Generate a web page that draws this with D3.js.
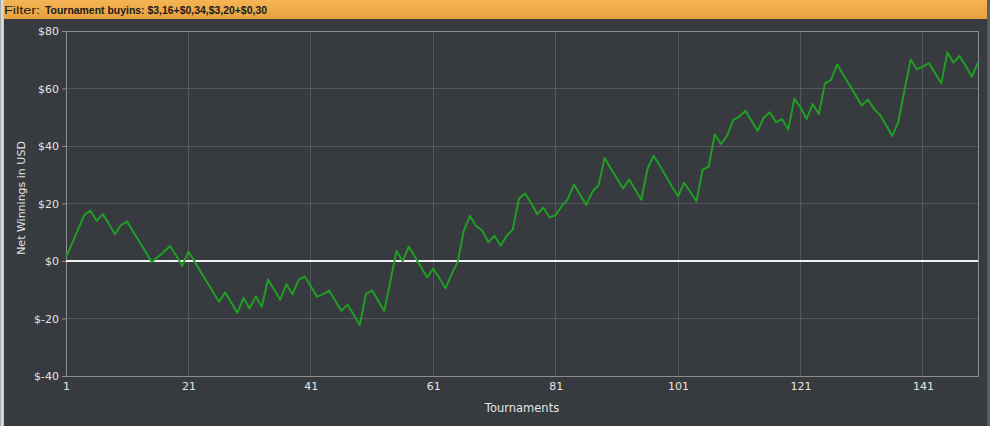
<!DOCTYPE html>
<html>
<head>
<meta charset="utf-8">
<script src="https://cdn.jsdelivr.net/npm/d3@7"></script>
<style>
html,body{margin:0;padding:0;background:#373a3e;overflow:hidden;}
svg{display:block;}
</style>
</head>
<body>
<svg id="chart" width="990" height="426"></svg>
<script>
// ---- data ----
const filterLabel = "Filter:";
const filterValue = "Tournament buyins: $3,16+$0,34,$3,20+$0,30";
const xTickValues = [1, 21, 41, 61, 81, 101, 121, 141];
const yTickValues = [-40, -20, 0, 20, 40, 60, 80];
const tournaments = d3.range(1, 151);
const netWinnings = [
  1.3, 6.1, 11.1, 16.0, 17.5, 14.0, 16.3, 13.0, 9.3, 12.5,
  13.7, 10.2, 6.7, 3.2, -0.3, 1.4, 3.2, 5.2, 1.9, -1.7,
  3.3, -0.2, -3.7, -7.2, -10.7, -14.2, -10.9, -14.4, -18.0, -12.8,
  -16.5, -12.3, -15.9, -6.4, -9.9, -13.5, -8.1, -11.6, -6.6, -5.4,
  -8.8, -12.4, -11.5, -10.3, -13.8, -17.3, -15.2, -18.7, -22.3, -11.5,
  -10.2, -13.8, -17.4, -7.0, 3.5, 0.0, 5.0, 1.5, -2.1, -5.7,
  -2.6, -6.0, -9.5, -4.6, -0.2, 10.6, 15.7, 12.2, 10.6, 6.5,
  8.8, 5.3, 8.8, 11.0, 21.7, 23.5, 20.1, 16.3, 18.6, 15.1,
  16.0, 19.1, 21.6, 26.6, 23.0, 19.5, 24.1, 26.4, 35.8, 32.2,
  28.8, 25.2, 28.3, 24.9, 21.3, 32.0, 36.6, 33.2, 29.6, 25.9,
  22.5, 27.2, 24.0, 20.8, 31.7, 32.8, 44.1, 40.6, 43.6, 49.0,
  50.2, 52.3, 48.8, 45.3, 49.9, 51.7, 48.3, 49.3, 45.8, 56.5,
  53.4, 49.4, 54.6, 51.1, 61.8, 63.0, 68.4, 64.8, 61.2, 57.7,
  54.1, 56.2, 52.9, 50.8, 47.2, 43.5, 48.5, 59.5, 70.1, 66.7,
  67.6, 68.8, 65.3, 61.8, 72.5, 69.0, 71.3, 67.8, 64.1, 69.0
];

// ---- drawing ----
const W = 990, H = 426;
const svg = d3.select("#chart");
const font = "'DejaVu Sans', Verdana, sans-serif";
const hfont = "'Liberation Sans', Arial, sans-serif";

const defs = svg.append("defs");
const hg = defs.append("linearGradient").attr("id","hdr").attr("x1",0).attr("y1",0).attr("x2",0).attr("y2",1);
hg.append("stop").attr("offset","0%").attr("stop-color","#f6b455");
hg.append("stop").attr("offset","100%").attr("stop-color","#e6a13e");
const lg = defs.append("linearGradient").attr("id","lstrip").attr("x1",0).attr("y1",0).attr("x2",1).attr("y2",0);
lg.append("stop").attr("offset","0%").attr("stop-color","#9a9a9a");
lg.append("stop").attr("offset","50%").attr("stop-color","#e8e8e8");
lg.append("stop").attr("offset","100%").attr("stop-color","#bdbdbd");

svg.append("rect").attr("x",0).attr("y",0).attr("width",W).attr("height",H).attr("fill","#373a3e");
svg.append("rect").attr("x",0).attr("y",0).attr("width",4).attr("height",H).attr("fill","url(#lstrip)");
svg.append("rect").attr("x",987).attr("y",0).attr("width",3).attr("height",H).attr("fill","#5a5d61");

// header
svg.append("rect").attr("x",4).attr("y",0).attr("width",983).attr("height",19).attr("fill","url(#hdr)");
svg.append("text").attr("x",4).attr("y",14)
  .attr("font-family",hfont).attr("font-size",11.5).attr("fill","#1b1b1b")
  .attr("textLength",36).attr("lengthAdjust","spacingAndGlyphs").text(filterLabel);
svg.append("text").attr("x",45).attr("y",14)
  .attr("font-family",hfont).attr("font-size",11.5).attr("font-weight","bold").attr("fill","#1b1b1b")
  .attr("textLength",222).attr("lengthAdjust","spacingAndGlyphs").text(filterValue);

const x = d3.scaleLinear().domain([1,150]).range([66,978]);
const y = d3.scaleLinear().domain([-40,80]).range([376,31]);

// grid
const g = svg.append("g");
g.selectAll("line.vg").data(xTickValues.filter(d=>d!==1)).enter().append("line")
  .attr("x1",d=>x(d)).attr("x2",d=>x(d)).attr("y1",y(80)).attr("y2",y(-40))
  .attr("stroke","#54575b").attr("stroke-width",1).attr("shape-rendering","crispEdges");
g.selectAll("line.hg").data(yTickValues.filter(d=>d!==-40 && d!==80 && d!==0)).enter().append("line")
  .attr("x1",x(1)).attr("x2",x(150)).attr("y1",d=>y(d)).attr("y2",d=>y(d))
  .attr("stroke","#54575b").attr("stroke-width",1).attr("shape-rendering","crispEdges");

// plot border
svg.append("rect").attr("x",x(1)).attr("y",y(80)).attr("width",x(150)-x(1)).attr("height",y(-40)-y(80))
  .attr("fill","none").attr("stroke","#8c8c8c").attr("stroke-width",1).attr("shape-rendering","crispEdges");

// axes
const yAxis = d3.axisLeft(y).tickValues(yTickValues).tickSize(4).tickPadding(3)
  .tickFormat(d=>"$"+d);
const ya = svg.append("g").attr("transform",`translate(${x(1)},0)`).call(yAxis);
ya.select(".domain").remove();
ya.selectAll(".tick line").attr("stroke","#8c8c8c");
ya.selectAll(".tick text").attr("fill","#e4e4e4").attr("font-family",font).attr("font-size",11);

const xAxis = d3.axisBottom(x).tickValues(xTickValues).tickSize(0).tickPadding(6)
  .tickFormat(d=>d);
const xa = svg.append("g").attr("transform",`translate(0,${y(-40)})`).call(xAxis);
xa.select(".domain").remove();
xa.selectAll(".tick text").attr("fill","#e4e4e4").attr("font-family",font).attr("font-size",11);

// zero line
svg.append("line").attr("x1",x(1)).attr("x2",x(150)).attr("y1",y(0)).attr("y2",y(0))
  .attr("stroke","#f2f2f2").attr("stroke-width",2);

// series line
const line = d3.line().x((d,i)=>x(tournaments[i])).y(d=>y(d));
svg.append("path").datum(netWinnings).attr("d",line)
  .attr("fill","none").attr("stroke","#1f9e23").attr("stroke-width",2).attr("stroke-linejoin","round");

// axis titles
svg.append("text").attr("x",(x(1)+x(150))/2).attr("y",412).attr("text-anchor","middle")
  .attr("font-family",font).attr("font-size",11.5).attr("fill","#e4e4e4").text("Tournaments");
svg.append("text").attr("transform",`translate(24.5,198) rotate(-90)`).attr("text-anchor","middle")
  .attr("font-family",font).attr("font-size",11).attr("fill","#e4e4e4").text("Net Winnings in USD");
</script>
</body>
</html>
